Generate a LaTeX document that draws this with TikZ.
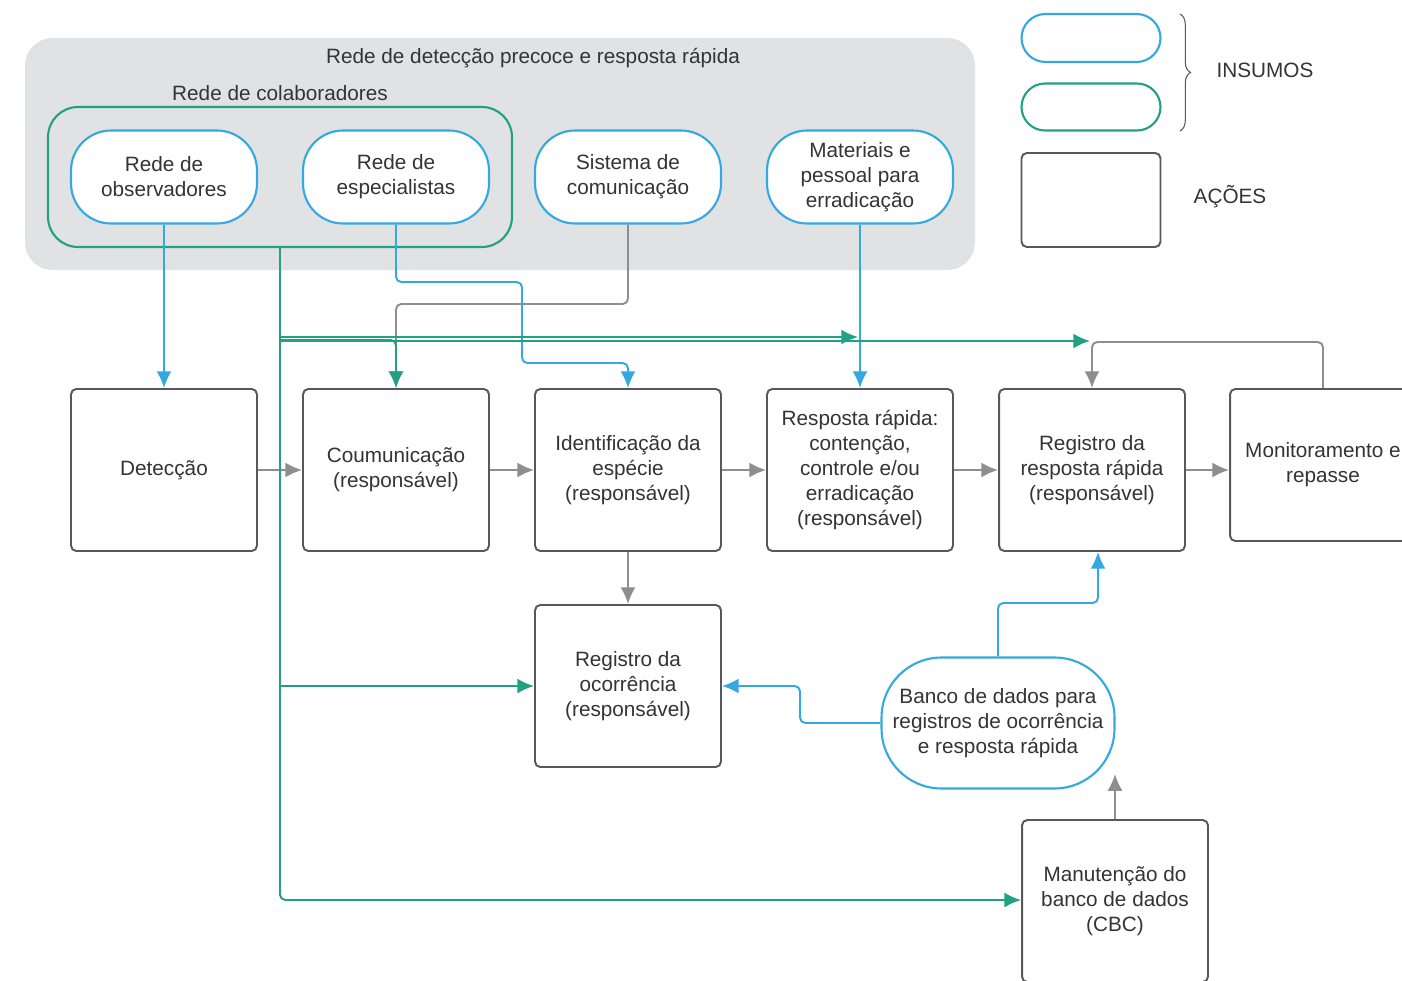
\documentclass[tikz,border=0pt]{standalone}
\usepackage{fontspec}
\setmainfont{Liberation Sans}
\usepackage{xcolor}
\usepackage{tikz}
\usetikzlibrary{arrows.meta, decorations.pathreplacing}

\definecolor{azul}{HTML}{34A8E0}
\definecolor{verde}{HTML}{22A083}
\definecolor{cinzaseta}{HTML}{8E8E92}
\definecolor{cinzaborda}{HTML}{58585C}
\definecolor{cinzafundo}{HTML}{E1E2E3}
\definecolor{texto}{HTML}{333338}

\tikzset{
  insumo/.style={draw=azul, line width=1.2pt, fill=white, rounded corners=0.8cm,
    minimum width=3.72cm, minimum height=1.86cm, align=center, text=texto,
    font=\fontsize{11.8}{14.2}\selectfont},
  acao/.style={draw=cinzaborda, line width=1.1pt, fill=white, rounded corners=3pt,
    minimum width=3.72cm, minimum height=3.24cm, align=center, text=texto,
    font=\fontsize{11.8}{14.2}\selectfont},
  rotulo/.style={text=texto, font=\fontsize{11.8}{14.2}\selectfont},
  seta/.style={->, line width=1.1pt, rounded corners=3pt},
}

\begin{document}
\begin{tikzpicture}[>={Latex[length=9.5pt,width=8.5pt]}, x=0.02cm, y=-0.02cm]
    \useasboundingbox (0,0) rectangle (1402,980);

    % 1. Rede de deteccao (fundo cinza) e rede de colaboradores
    \fill[cinzafundo, rounded corners=0.55cm] (25,38) rectangle (975,270);
    \node[rotulo] (titulo) at (533,58) {Rede de detecção precoce e resposta rápida};
    \node[rotulo] (tcolab) at (280,93) {Rede de colaboradores};
    \node[draw=verde, line width=1.2pt, rounded corners=0.6cm,
          minimum width=9.28cm, minimum height=2.8cm] (colab) at (280,177) {};

    % 2. Insumos
    \node[insumo] (obs)  at (164,177) {Rede de\\observadores};
    \node[insumo] (esp)  at (396,177) {Rede de\\especialistas};
    \node[insumo] (sis)  at (628,177) {Sistema de\\comunicação};
    \node[insumo] (mat)  at (860,177) {Materiais e\\pessoal para\\erradicação};

    % 3. Legenda
    \node[insumo, minimum width=2.78cm, minimum height=0.96cm, rounded corners=0.48cm]
        (legazul) at (1091,38) {};
    \node[insumo, draw=verde, minimum width=2.78cm, minimum height=0.94cm, rounded corners=0.47cm]
        (legverde) at (1091,107) {};
    \node[acao, minimum width=2.78cm, minimum height=1.88cm] (legacao) at (1091,200) {};
    \draw[cinzaborda, line width=0.6pt, decorate, decoration={brace, amplitude=6pt}]
        (1180,14) -- (1180,131);
    \node[rotulo] (insumos) at (1265,70) {INSUMOS};
    \node[rotulo] (acoes) at (1230,197) {AÇÕES};

    % 4. Acoes
    \node[acao] (det)    at (164,470) {Detecção};
    \node[acao] (coum)   at (396,470) {Coumunicação\\(responsável)};
    \node[acao] (ident)  at (628,470) {Identificação da\\espécie\\(responsável)};
    \node[acao] (resp)   at (860,470) {Resposta rápida:\\contenção,\\controle e/ou\\erradicação\\(responsável)};
    \node[acao] (regresp) at (1092,470) {Registro da\\resposta rápida\\(responsável)};
    \node[acao, minimum height=3.04cm] (monit) at (1323,465) {Monitoramento e\\repasse};
    \node[acao] (ocorr)  at (628,686) {Registro da\\ocorrência\\(responsável)};
    \node[insumo, minimum width=4.66cm, minimum height=2.62cm, rounded corners=1.2cm]
        (banco) at (998,723) {Banco de dados para\\registros de ocorrência\\e resposta rápida};
    \node[acao] (manut)  at (1115,901) {Manutenção do\\banco de dados\\(CBC)};

    % 5. Setas cinzas (sequencia de acoes)
    \draw[seta, cinzaseta] (sis.south) -- (628,304) -- (396,304) -- (coum.north);
    \draw[seta, cinzaseta] (det) -- (coum);
    \draw[seta, cinzaseta] (coum) -- (ident);
    \draw[seta, cinzaseta] (ident) -- (resp);
    \draw[seta, cinzaseta] (resp) -- (regresp);
    \draw[seta, cinzaseta] (regresp.east) -- (monit.west |- regresp.east);
    \draw[seta, cinzaseta] (ident) -- (ocorr);
    \draw[seta, cinzaseta] (monit.north) -- (1323,342) -- (1092,342) -- (regresp.north);
    \draw[seta, cinzaseta] (manut.north) -- ++(0,-45);

    % 6. Setas azuis
    \draw[seta, azul] (obs) -- (det);
    \draw[seta, azul] (esp.south) -- (396,282) -- (522,282) -- (522,363)
        -- (628,363) -- (ident.north);
    \draw[seta, azul] (mat) -- (resp);
    \draw[seta, azul] (banco.west) -| (800,686) -- (ocorr.east);
    \draw[seta, azul] (banco.north) -- (998,603) -- (1098,603)
        -- ([xshift=0.12cm]regresp.south);

    % 7. Setas verdes (rede de colaboradores)
    \draw[seta, verde] (colab.south) -- (280,900) -- (manut.west |- 0,900);
    \draw[seta, verde] (280,340) -- (396,340) -- (coum.north);
    \draw[seta, verde] (280,337) -- (858,337);
    \draw[seta, verde] (280,341) -- (1090,341);
    \draw[seta, verde] (280,686) -- (ocorr.west);
\end{tikzpicture}
\end{document}
